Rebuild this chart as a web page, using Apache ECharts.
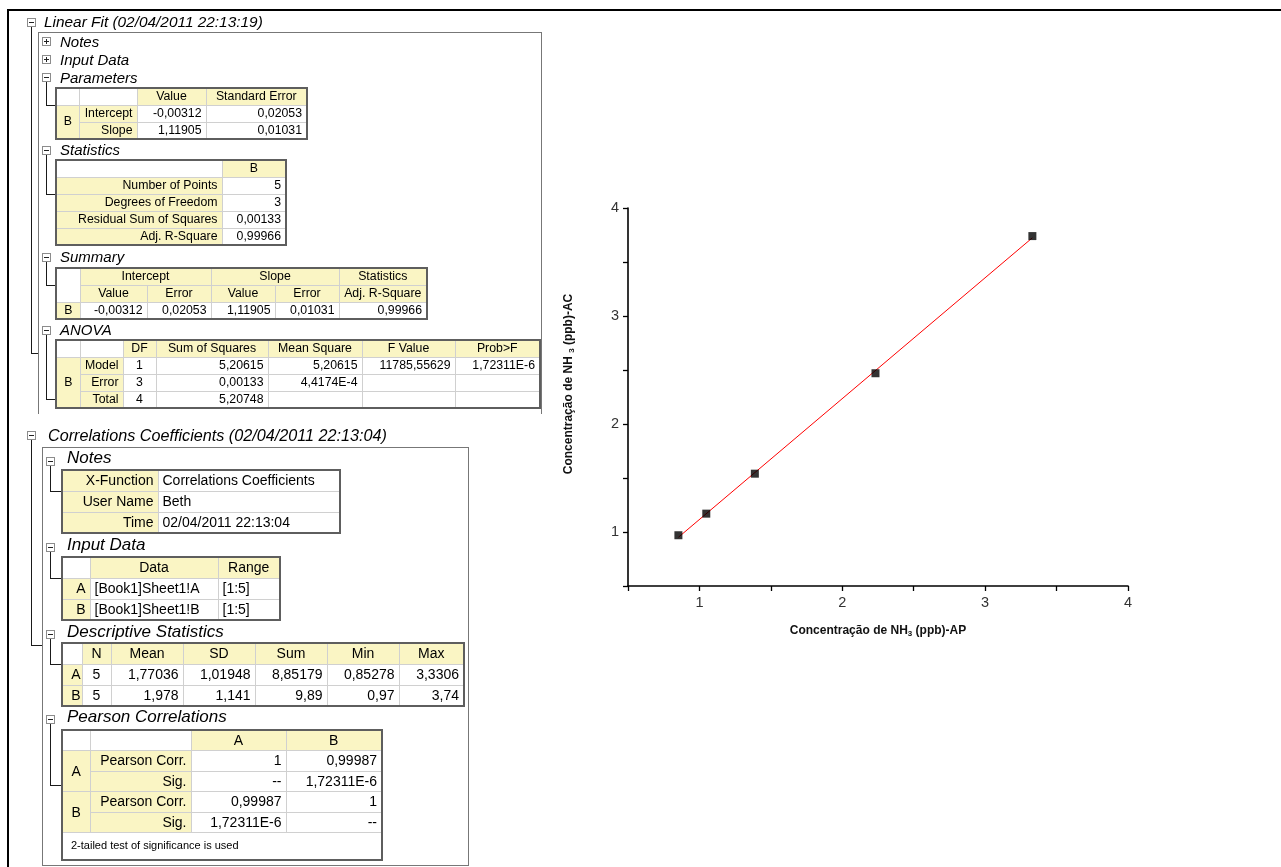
<!DOCTYPE html>
<html>
<head>
<meta charset="utf-8">
<title>Linear Fit - NH3</title>
<script src="https://cdn.jsdelivr.net/npm/echarts@6/dist/echarts.min.js"></script>
<style>
html, body { margin: 0; padding: 0; background: #fff; }
#chart { position: absolute; left: 0; top: 0; width: 1281px; height: 867px; }
#report { position: absolute; left: 0; top: 0; width: 1281px; height: 867px;
  font-family: "Liberation Sans", Arial, sans-serif; color: #000; pointer-events: none; }
.ln { position: absolute; background: #1a1a1a; }
.frame { position: absolute; background: #000; }
.ico { position: absolute; width: 7px; height: 7px; border: 1px solid #8c8c8c; background: #fff; }
.ico::before { content: ""; position: absolute; left: 1px; top: 3px; width: 5px; height: 1px; background: #222; }
.ico.plus::after { content: ""; position: absolute; left: 3px; top: 1px; width: 1px; height: 5px; background: #222; }
.hd { position: absolute; font-style: italic; white-space: nowrap; line-height: 20px; }
.box { position: absolute; border: 1px solid #777; }
table { position: absolute; border-collapse: collapse; table-layout: fixed; border: 2px solid #5e5e5e; }
td { border: 1px solid #d0d0d0; padding: 0 4px; white-space: nowrap; overflow: hidden;
  background: #fff; text-align: right; box-sizing: border-box; }
td.y { background: #faf5c4; }
td.c { text-align: center; }
td.l { text-align: left; }
.s1 td { font-size: 12.3px; height: 17px; line-height: 15px; }
.s2 td { font-size: 14px; height: 21px; line-height: 19px; }
.s2.tight td { height: 20.5px; }
td.note { font-size: 11px; text-align: left; padding-left: 8px; height: 27px !important; }
</style>
</head>
<body>
<div id="chart"></div>
<div id="report">
  <!-- page frame -->
  <div class="frame" style="left:7px;top:9px;width:1274px;height:2px"></div>
  <div class="frame" style="left:7px;top:9px;width:2px;height:858px"></div>

  <!-- Linear Fit block -->
  <div class="ico" style="left:27px;top:18px"></div>
  <div class="hd" style="left:44px;top:12px;font-size:15.4px">Linear Fit (02/04/2011 22:13:19)</div>
  <div class="ln" style="left:31px;top:27px;width:1px;height:327px"></div>
  <div class="ln" style="left:31px;top:353px;width:8px;height:1px"></div>
  <div class="box" style="left:38px;top:32px;width:502px;height:381px;border-bottom:none"></div>

  <div class="ico plus" style="left:42px;top:37px"></div>
  <div class="hd" style="left:60px;top:32px;font-size:15px">Notes</div>
  <div class="ico plus" style="left:42px;top:55px"></div>
  <div class="hd" style="left:60px;top:50px;font-size:15px">Input Data</div>
  <div class="ico" style="left:42px;top:73px"></div>
  <div class="hd" style="left:60px;top:68px;font-size:15px">Parameters</div>
  <div class="ln" style="left:46px;top:82px;width:1px;height:24px"></div>
  <div class="ln" style="left:46px;top:105px;width:9px;height:1px"></div>

  <table class="s1" style="left:55px;top:87px;width:251px">
    <colgroup><col style="width:23px"><col style="width:58px"><col style="width:69px"><col style="width:101px"></colgroup>
    <tr><td></td><td></td><td class="y c">Value</td><td class="y c">Standard Error</td></tr>
    <tr><td class="y c" rowspan="2">B</td><td class="y">Intercept</td><td>-0,00312</td><td>0,02053</td></tr>
    <tr><td class="y">Slope</td><td>1,11905</td><td>0,01031</td></tr>
  </table>

  <div class="ico" style="left:42px;top:146px"></div>
  <div class="hd" style="left:60px;top:140px;font-size:15px">Statistics</div>
  <div class="ln" style="left:46px;top:155px;width:1px;height:40px"></div>
  <div class="ln" style="left:46px;top:194px;width:9px;height:1px"></div>

  <table class="s1" style="left:55px;top:159px;width:230px">
    <colgroup><col style="width:166px"><col style="width:64px"></colgroup>
    <tr><td></td><td class="y c">B</td></tr>
    <tr><td class="y">Number of Points</td><td>5</td></tr>
    <tr><td class="y">Degrees of Freedom</td><td>3</td></tr>
    <tr><td class="y">Residual Sum of Squares</td><td>0,00133</td></tr>
    <tr><td class="y">Adj. R-Square</td><td>0,99966</td></tr>
  </table>

  <div class="ico" style="left:42px;top:253px"></div>
  <div class="hd" style="left:60px;top:247px;font-size:15px">Summary</div>
  <div class="ln" style="left:46px;top:262px;width:1px;height:24px"></div>
  <div class="ln" style="left:46px;top:285px;width:9px;height:1px"></div>

  <table class="s1" style="left:55px;top:267px;width:371px">
    <colgroup><col style="width:24px"><col style="width:67px"><col style="width:64px"><col style="width:64px"><col style="width:64px"><col style="width:88px"></colgroup>
    <tr><td rowspan="2"></td><td class="y c" colspan="2">Intercept</td><td class="y c" colspan="2">Slope</td><td class="y c">Statistics</td></tr>
    <tr><td class="y c">Value</td><td class="y c">Error</td><td class="y c">Value</td><td class="y c">Error</td><td class="y c">Adj. R-Square</td></tr>
    <tr><td class="y c">B</td><td>-0,00312</td><td>0,02053</td><td>1,11905</td><td>0,01031</td><td>0,99966</td></tr>
  </table>

  <div class="ico" style="left:42px;top:326px"></div>
  <div class="hd" style="left:60px;top:320px;font-size:15px">ANOVA</div>
  <div class="ln" style="left:46px;top:335px;width:1px;height:65px"></div>
  <div class="ln" style="left:46px;top:399px;width:9px;height:1px"></div>

  <table class="s1" style="left:55px;top:339px;width:484px">
    <colgroup><col style="width:24px"><col style="width:43px"><col style="width:33px"><col style="width:112px"><col style="width:94px"><col style="width:93px"><col style="width:85px"></colgroup>
    <tr><td></td><td></td><td class="y c">DF</td><td class="y c">Sum of Squares</td><td class="y c">Mean Square</td><td class="y c">F Value</td><td class="y c">Prob&gt;F</td></tr>
    <tr><td class="y c" rowspan="3">B</td><td class="y">Model</td><td class="c">1</td><td>5,20615</td><td>5,20615</td><td>11785,55629</td><td>1,72311E-6</td></tr>
    <tr><td class="y">Error</td><td class="c">3</td><td>0,00133</td><td>4,4174E-4</td><td></td><td></td></tr>
    <tr><td class="y">Total</td><td class="c">4</td><td>5,20748</td><td></td><td></td><td></td></tr>
  </table>

  <!-- Correlations Coefficients block -->
  <div class="ico" style="left:27px;top:431px"></div>
  <div class="hd" style="left:48px;top:425px;font-size:16.2px">Correlations Coefficients (02/04/2011 22:13:04)</div>
  <div class="ln" style="left:31px;top:440px;width:1px;height:206px"></div>
  <div class="ln" style="left:31px;top:645px;width:11px;height:1px"></div>
  <div class="box" style="left:42px;top:447px;width:425px;height:417px"></div>

  <div class="ico" style="left:46px;top:457px"></div>
  <div class="hd" style="left:67px;top:448px;font-size:17px">Notes</div>
  <div class="ln" style="left:50px;top:466px;width:1px;height:26px"></div>
  <div class="ln" style="left:50px;top:491px;width:11px;height:1px"></div>

  <table class="s2" style="left:61px;top:469px;width:278px">
    <colgroup><col style="width:96px"><col style="width:182px"></colgroup>
    <tr><td class="y">X-Function</td><td class="l">Correlations Coefficients</td></tr>
    <tr><td class="y">User Name</td><td class="l">Beth</td></tr>
    <tr><td class="y">Time</td><td class="l">02/04/2011 22:13:04</td></tr>
  </table>

  <div class="ico" style="left:46px;top:543px"></div>
  <div class="hd" style="left:67px;top:535px;font-size:17px">Input Data</div>
  <div class="ln" style="left:50px;top:552px;width:1px;height:27px"></div>
  <div class="ln" style="left:50px;top:578px;width:11px;height:1px"></div>

  <table class="s2" style="left:61px;top:556px;width:218px">
    <colgroup><col style="width:28px"><col style="width:128px"><col style="width:62px"></colgroup>
    <tr><td></td><td class="y c">Data</td><td class="y c">Range</td></tr>
    <tr><td class="y">A</td><td class="l">[Book1]Sheet1!A</td><td class="l">[1:5]</td></tr>
    <tr><td class="y">B</td><td class="l">[Book1]Sheet1!B</td><td class="l">[1:5]</td></tr>
  </table>

  <div class="ico" style="left:46px;top:630px"></div>
  <div class="hd" style="left:67px;top:622px;font-size:17px">Descriptive Statistics</div>
  <div class="ln" style="left:50px;top:639px;width:1px;height:26px"></div>
  <div class="ln" style="left:50px;top:664px;width:11px;height:1px"></div>

  <table class="s2" style="left:61px;top:642px;width:402px">
    <colgroup><col style="width:20px"><col style="width:29px"><col style="width:72px"><col style="width:72px"><col style="width:72px"><col style="width:72px"><col style="width:65px"></colgroup>
    <tr><td></td><td class="y c">N</td><td class="y c">Mean</td><td class="y c">SD</td><td class="y c">Sum</td><td class="y c">Min</td><td class="y c">Max</td></tr>
    <tr><td class="y" style="padding:0 1px">A</td><td class="c">5</td><td>1,77036</td><td>1,01948</td><td>8,85179</td><td>0,85278</td><td>3,3306</td></tr>
    <tr><td class="y" style="padding:0 1px">B</td><td class="c">5</td><td>1,978</td><td>1,141</td><td>9,89</td><td>0,97</td><td>3,74</td></tr>
  </table>

  <div class="ico" style="left:46px;top:715px"></div>
  <div class="hd" style="left:67px;top:707px;font-size:17px">Pearson Correlations</div>
  <div class="ln" style="left:50px;top:724px;width:1px;height:62px"></div>
  <div class="ln" style="left:50px;top:785px;width:11px;height:1px"></div>

  <table class="s2 tight" style="left:61px;top:729px;width:320px">
    <colgroup><col style="width:28px"><col style="width:101px"><col style="width:95px"><col style="width:96px"></colgroup>
    <tr><td></td><td></td><td class="y c">A</td><td class="y c">B</td></tr>
    <tr><td class="y c" rowspan="2">A</td><td class="y">Pearson Corr.</td><td>1</td><td>0,99987</td></tr>
    <tr><td class="y">Sig.</td><td>--</td><td>1,72311E-6</td></tr>
    <tr><td class="y c" rowspan="2">B</td><td class="y">Pearson Corr.</td><td>0,99987</td><td>1</td></tr>
    <tr><td class="y">Sig.</td><td>1,72311E-6</td><td>--</td></tr>
    <tr><td class="note" colspan="4">2-tailed test of significance is used</td></tr>
  </table>
</div>

<script>
// NH3 concentration: AP (x) versus AC (y), five paired measurements
const xAP = [0.85278, 1.048, 1.388, 2.2324, 3.3306];
const yAC = [0.97, 1.17, 1.54, 2.47, 3.74];

// Linear fit parameters (value column of the Parameters table)
const fitIntercept = -0.00312;
const fitSlope = 1.11905;

// Axis ranges and tick step (labels shown on whole numbers only)
const axisMin = 0.5;
const axisMax = 4;
const tickStep = 0.5;

const points = xAP.map((x, i) => [x, yAC[i]]);
const xLo = Math.min(...xAP);
const xHi = Math.max(...xAP);
const fitLine = [xLo, xHi].map(x => [x, fitIntercept + fitSlope * x]);

const labelFont = { fontFamily: 'Liberation Sans, Arial, sans-serif', fontSize: 14.5, color: '#333' };
const nameRich = {
  n: { fontFamily: 'Liberation Sans, Arial, sans-serif', fontSize: 12, fontWeight: 'bold', color: '#111', lineHeight: 14 },
  s: { fontFamily: 'Liberation Sans, Arial, sans-serif', fontSize: 8, fontWeight: 'bold', color: '#111', lineHeight: 8, verticalAlign: 'bottom' }
};

function axisCommon() {
  return {
    type: 'value',
    min: axisMin,
    max: axisMax,
    interval: tickStep,
    splitLine: { show: false },
    axisLine: { show: true, lineStyle: { color: '#000', width: 1.6 } },
    axisTick: { show: true, length: 5, lineStyle: { color: '#000', width: 1.3 } },
    axisLabel: Object.assign({
      formatter: v => (Math.abs(v - Math.round(v)) < 1e-9 ? String(Math.round(v)) : ''),
      margin: 9
    }, labelFont),
    nameLocation: 'middle'
  };
}

const chart = echarts.init(document.getElementById('chart'), null, { renderer: 'canvas' });
chart.setOption({
  animation: false,
  backgroundColor: '#fff',
  grid: { left: 628, right: 153, top: 208, bottom: 281, containLabel: false },
  xAxis: Object.assign(axisCommon(), {
    name: '{n|Concentração de NH}{s|3}{n| (ppb)-AP}',
    nameGap: 38,
    nameTextStyle: { rich: nameRich }
  }),
  yAxis: Object.assign(axisCommon(), {
    name: '{n|Concentração de NH }{s|3}{n| (ppb)-AC}',
    nameGap: 52,
    nameTextStyle: { rich: nameRich, padding: [0, 0, 0, 26] }
  }),
  series: [
    {
      type: 'line',
      data: fitLine,
      symbol: 'none',
      lineStyle: { color: '#ff0000', width: 1 },
      z: 2
    },
    {
      type: 'scatter',
      data: points,
      symbol: 'rect',
      symbolSize: 8,
      itemStyle: { color: '#000' },
      z: 3
    }
  ]
});
</script>
</body>
</html>
